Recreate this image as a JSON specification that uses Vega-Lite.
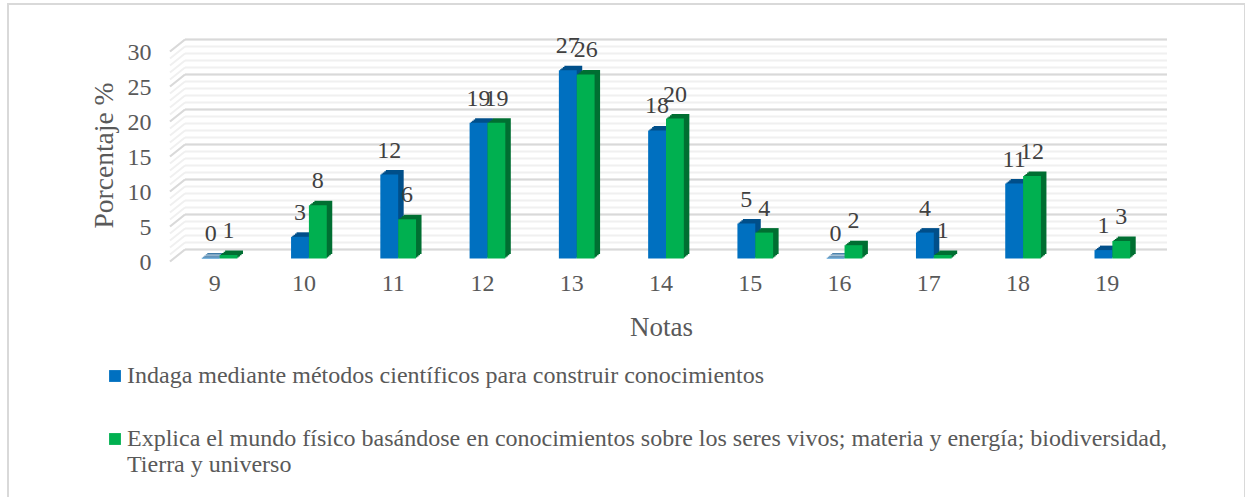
{
"$schema":"https://vega.github.io/schema/vega-lite/v6.json",
"autosize":{"type":"none"},
"padding":{"left":8,"top":4,"right":0,"bottom":0},
"width":1237,
"height":500,
"background":"white",
"view":{"stroke":"#d9d9d9","strokeWidth":2,"fill":"white"},
"datasets":{
"grid":[{"v":0},{"v":1},{"v":2},{"v":3},{"v":4},{"v":5},{"v":6},{"v":7},{"v":8},{"v":9},{"v":10},{"v":11},{"v":12},{"v":13},{"v":14},{"v":15},{"v":16},{"v":17},{"v":18},{"v":19},{"v":20},{"v":21},{"v":22},{"v":23},{"v":24},{"v":25},{"v":26},{"v":27},{"v":28},{"v":29},{"v":30}],
"major":[{"v":0},{"v":5},{"v":10},{"v":15},{"v":20},{"v":25},{"v":30}],
"bars":[
{"nota":"9","serie":"A","valor":0.1,"etiqueta":"0"},{"nota":"9","serie":"B","valor":0.5,"etiqueta":"1"},
{"nota":"10","serie":"A","valor":3.1,"etiqueta":"3"},{"nota":"10","serie":"B","valor":7.6,"etiqueta":"8"},
{"nota":"11","serie":"A","valor":12,"etiqueta":"12"},{"nota":"11","serie":"B","valor":5.6,"etiqueta":"6"},
{"nota":"12","serie":"A","valor":19.4,"etiqueta":"19"},{"nota":"12","serie":"B","valor":19.4,"etiqueta":"19"},
{"nota":"13","serie":"A","valor":26.9,"etiqueta":"27"},{"nota":"13","serie":"B","valor":26.3,"etiqueta":"26"},
{"nota":"14","serie":"A","valor":18.3,"etiqueta":"18"},{"nota":"14","serie":"B","valor":20,"etiqueta":"20"},
{"nota":"15","serie":"A","valor":5,"etiqueta":"5"},{"nota":"15","serie":"B","valor":3.7,"etiqueta":"4"},
{"nota":"16","serie":"A","valor":0.1,"etiqueta":"0"},{"nota":"16","serie":"B","valor":1.9,"etiqueta":"2"},
{"nota":"17","serie":"A","valor":3.7,"etiqueta":"4"},{"nota":"17","serie":"B","valor":0.5,"etiqueta":"1"},
{"nota":"18","serie":"A","valor":10.7,"etiqueta":"11"},{"nota":"18","serie":"B","valor":11.8,"etiqueta":"12"},
{"nota":"19","serie":"A","valor":1.2,"etiqueta":"1"},{"nota":"19","serie":"B","valor":2.5,"etiqueta":"3"}
]},
"encoding":{
 "y":{"field":"v","type":"quantitative","scale":{"domain":[0,30],"range":[254.5,44.5]},
  "axis":{"values":[0,5,10,15,20,25,30],"offset":-145,"domain":false,"ticks":false,"grid":false,"labelFont":"Liberation Serif","labelFontSize":24,"labelColor":"#595959","labelPadding":2,"labelOffset":4,"title":"Porcentaje %","titleFont":"Liberation Serif","titleFontSize":27.5,"titleFontWeight":"normal","titleColor":"#595959","titleX":-35,"titleY":151}}
},
"resolve":{"scale":{"x":"independent"}},
"layer":[
{"data":{"name":"grid"},"transform":[{"calculate":"0","as":"a"},{"calculate":"1","as":"b"}],
 "mark":{"type":"rule","color":"#f0f0f0","strokeWidth":2,"yOffset":-9,"y2Offset":-9},
 "encoding":{"x":{"field":"a","type":"quantitative","axis":null,"scale":{"domain":[0,1],"range":[177,1159]}},"x2":{"field":"b"},"y2":{"field":"v"}}},
{"data":{"name":"grid"},"transform":[{"calculate":"0","as":"a"},{"calculate":"1","as":"b"}],
 "mark":{"type":"rule","color":"#f0f0f0","strokeWidth":2,"yOffset":3,"y2Offset":-9},
 "encoding":{"x":{"field":"a","type":"quantitative","axis":null,"scale":{"domain":[0,1],"range":[162,177]}},"x2":{"field":"b"},"y2":{"field":"v"}}},
{"data":{"name":"major"},"transform":[{"calculate":"0","as":"a"},{"calculate":"1","as":"b"}],
 "mark":{"type":"rule","color":"#d9d9d9","strokeWidth":2,"yOffset":-9,"y2Offset":-9},
 "encoding":{"x":{"field":"a","type":"quantitative","axis":null,"scale":{"domain":[0,1],"range":[177,1159]}},"x2":{"field":"b"},"y2":{"field":"v"}}},
{"data":{"name":"major"},"transform":[{"calculate":"0","as":"a"},{"calculate":"1","as":"b"}],
 "mark":{"type":"rule","color":"#d9d9d9","strokeWidth":2,"yOffset":3,"y2Offset":-9},
 "encoding":{"x":{"field":"a","type":"quantitative","axis":null,"scale":{"domain":[0,1],"range":[162,177]}},"x2":{"field":"b"},"y2":{"field":"v"}}},
{"data":{"name":"bars"},
 "mark":{"type":"bar","yOffset":-4.5,"y2Offset":-4.5},
 "encoding":{"x":{"field":"nota","type":"nominal","sort":null,"axis":null,"scale":{"domain":["9","10","11","12","13","14","15","16","17","18","19"],"range":[172.5,1154.5],"paddingInner":0.6,"paddingOuter":0.3}},"xOffset":{"field":"serie","type":"nominal"},
 "y":{"field":"valor","type":"quantitative"},"color":{"condition":{"test":"datum.serie=='A'","value":"#004f8a"},"value":"#006f32"}}},
{"data":{"name":"bars"},
 "mark":{"type":"bar","yOffset":-3.3,"y2Offset":-3.3},
 "encoding":{"x":{"field":"nota","type":"nominal","sort":null,"axis":null,"scale":{"domain":["9","10","11","12","13","14","15","16","17","18","19"],"range":[171,1153],"paddingInner":0.6,"paddingOuter":0.3}},"xOffset":{"field":"serie","type":"nominal"},
 "y":{"field":"valor","type":"quantitative"},"color":{"condition":{"test":"datum.serie=='A'","value":"#004f8a"},"value":"#006f32"}}},
{"data":{"name":"bars"},
 "mark":{"type":"bar","yOffset":-2,"y2Offset":-2},
 "encoding":{"x":{"field":"nota","type":"nominal","sort":null,"axis":null,"scale":{"domain":["9","10","11","12","13","14","15","16","17","18","19"],"range":[169.5,1151.5],"paddingInner":0.6,"paddingOuter":0.3}},"xOffset":{"field":"serie","type":"nominal"},
 "y":{"field":"valor","type":"quantitative"},"color":{"condition":{"test":"datum.serie=='A'","value":"#004f8a"},"value":"#006f32"}}},
{"data":{"name":"bars"},
 "mark":{"type":"bar","yOffset":-1,"y2Offset":-1},
 "encoding":{"x":{"field":"nota","type":"nominal","sort":null,"axis":null,"scale":{"domain":["9","10","11","12","13","14","15","16","17","18","19"],"range":[168.2,1150.2],"paddingInner":0.6,"paddingOuter":0.3}},"xOffset":{"field":"serie","type":"nominal"},
 "y":{"field":"valor","type":"quantitative"},"color":{"condition":{"test":"datum.serie=='A'","value":"#004f8a"},"value":"#006f32"}}},
{"data":{"name":"bars"},
 "mark":{"type":"bar"},
 "encoding":{"x":{"field":"nota","type":"nominal","sort":null,"scale":{"domain":["9","10","11","12","13","14","15","16","17","18","19"],"range":[167,1149],"paddingInner":0.6,"paddingOuter":0.3},
  "axis":{"labelAngle":0,"domain":false,"ticks":false,"grid":false,"offset":-238,"labelOffset":-5,"labelPadding":5,"labelFont":"Liberation Serif","labelFontSize":24,"labelColor":"#595959","title":"Notas","titleFont":"Liberation Serif","titleFontSize":27,"titleFontWeight":"normal","titleColor":"#595959","titleX":653,"titleY":48}},
  "xOffset":{"field":"serie","type":"nominal"},
 "y":{"field":"valor","type":"quantitative"},
 "color":{"field":"serie","type":"nominal","scale":{"domain":["A","B"],"range":["#0070c0","#00b050"]},
  "legend":{"orient":"none","legendX":95,"legendY":360,"title":null,"symbolType":"square","symbolSize":140,"symbolStrokeWidth":0,"labelFont":"Liberation Serif","labelFontSize":24,"labelColor":"#595959","labelLimit":1200,"rowPadding":39,"labelOffset":0,
   "labelExpr":"datum.label=='A'?'Indaga mediante métodos científicos para construir conocimientos':['Explica el mundo físico basándose en conocimientos sobre los seres vivos; materia y energía; biodiversidad,','Tierra y universo']"}}}},
{"data":{"name":"bars"},
 "mark":{"type":"text","font":"Liberation Serif","fontSize":24,"color":"#404040","baseline":"middle","dy":-24},
 "encoding":{"x":{"field":"nota","type":"nominal","sort":null,"axis":null,"scale":{"domain":["9","10","11","12","13","14","15","16","17","18","19"],"range":[167,1149],"paddingInner":0.6,"paddingOuter":0.3}},"xOffset":{"field":"serie","type":"nominal"},
 "y":{"field":"valor","type":"quantitative"},"text":{"field":"etiqueta"}}}
]
}
